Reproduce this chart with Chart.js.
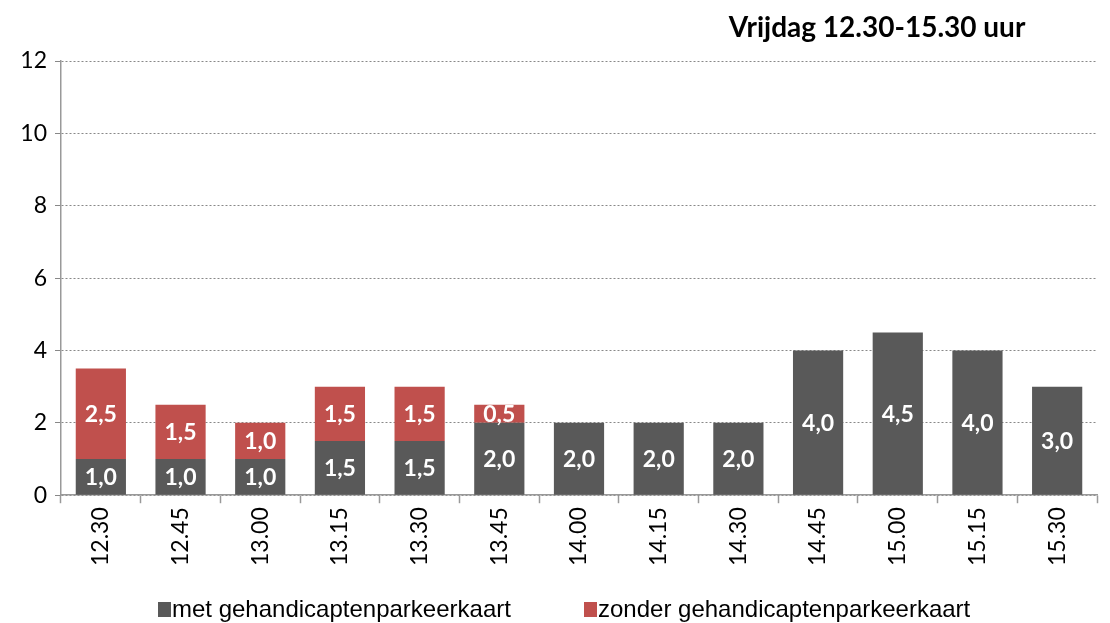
<!DOCTYPE html>
<html>
<head>
<meta charset="utf-8">
<script src="https://cdn.jsdelivr.net/npm/chart.js@4.4.1/dist/chart.umd.min.js"></script>
<style>
  html, body { margin: 0; padding: 0; background: #fff; }
  #wrap { width: 1110px; height: 623px; position: relative; }
</style>
</head>
<body>
<div id="wrap"><canvas id="chart" width="1110" height="623"></canvas></div>
<script>
/* ── DATA ─────────────────────────────────────────────── */
const times  = ['12.30','12.45','13.00','13.15','13.30','13.45','14.00','14.15','14.30','14.45','15.00','15.15','15.30'];
const met    = [1.0, 1.0, 1.0, 1.5, 1.5, 2.0, 2.0, 2.0, 2.0, 4.0, 4.5, 4.0, 3.0];
const zonder = [2.5, 1.5, 1.0, 1.5, 1.5, 0.5, 0, 0, 0, 0, 0, 0, 0];
const yTicks = [0, 2, 4, 6, 8, 10, 12];

const TITLE   = 'Vrijdag 12.30-15.30 uur';
const C_MET   = '#595959';
const C_ZOND  = '#C0504D';
const CAL     = 'Lato, "Open Sans", sans-serif';
const ARIAL   = '"Liberation Sans", Arial, sans-serif';

/* ── PLUGINS ──────────────────────────────────────────── */
const segLabels = {
  id: 'segLabels',
  afterDatasetsDraw(chart) {
    const ctx = chart.ctx;
    ctx.save();
    ctx.fillStyle = '#fff';
    ctx.font = 'bold 23px ' + CAL;
    ctx.textAlign = 'center';
    ctx.textBaseline = 'middle';
    chart.data.datasets.forEach((ds, di) => {
      chart.getDatasetMeta(di).data.forEach((bar, i) => {
        const v = ds.data[i];
        if (!v) return;
        const y = (bar.y + bar.base) / 2;
        ctx.fillText(v.toFixed(1).replace('.', ','), bar.x, y + 1);
      });
    });
    ctx.restore();
  }
};

/* title top-right + legend at the bottom, Excel-like placement */
const decor = {
  id: 'decor',
  afterDraw(chart) {
    const ctx = chart.ctx;
    ctx.save();
    ctx.fillStyle = '#000';
    ctx.font = 'bold 28px ' + CAL;
    ctx.textAlign = 'center';
    ctx.textBaseline = 'middle';
    ctx.fillText(TITLE, 877, 28);

    const spots = [158, 584];
    ctx.font = '24px ' + ARIAL;
    ctx.textAlign = 'left';
    chart.data.datasets.forEach((ds, i) => {
      const x = spots[i];
      ctx.fillStyle = ds.backgroundColor;
      ctx.fillRect(x, 602, 13, 15);
      ctx.fillStyle = '#000';
      ctx.fillText(ds.label, x + 14, 610);
    });
    ctx.restore();
  }
};

/* ── CHART ────────────────────────────────────────────── */
new Chart(document.getElementById('chart').getContext('2d'), {
  type: 'bar',
  data: {
    labels: times,
    datasets: [
      { label: 'met gehandicaptenparkeerkaart',    data: met,    backgroundColor: C_MET,  borderWidth: 0 },
      { label: 'zonder gehandicaptenparkeerkaart', data: zonder, backgroundColor: C_ZOND, borderWidth: 0 }
    ]
  },
  options: {
    responsive: false,
    animation: false,
    layout: { padding: { top: 61, right: 13, left: 0, bottom: 53 } },
    datasets: { bar: { categoryPercentage: 1, barPercentage: 0.63 } },
    plugins: {
      legend: { display: false },
      tooltip: { enabled: false }
    },
    scales: {
      x: {
        stacked: true,
        offset: true,
        grid: { offset: true, drawOnChartArea: false, color: '#999', tickLength: 8, tickWidth: 1.5 },
        border: { color: '#999', width: 1.5 },
        ticks: { color: '#000', minRotation: 90, maxRotation: 90, padding: 4, font: { size: 23, family: CAL } }
      },
      y: {
        stacked: true,
        min: 0, max: 12,
        afterBuildTicks: s => { s.ticks = yTicks.map(v => ({ value: v })); },
        afterFit: s => { s.width = 61; },
        grid: { color: '#888', tickLength: 6, tickBorderDash: [], lineWidth: 1 },
        border: { color: '#999', width: 1.5, dash: [2, 2] },
        ticks: { color: '#000', padding: 8, font: { size: 23, family: CAL } }
      }
    }
  },
  plugins: [segLabels, decor]
});
</script>
</body>
</html>
